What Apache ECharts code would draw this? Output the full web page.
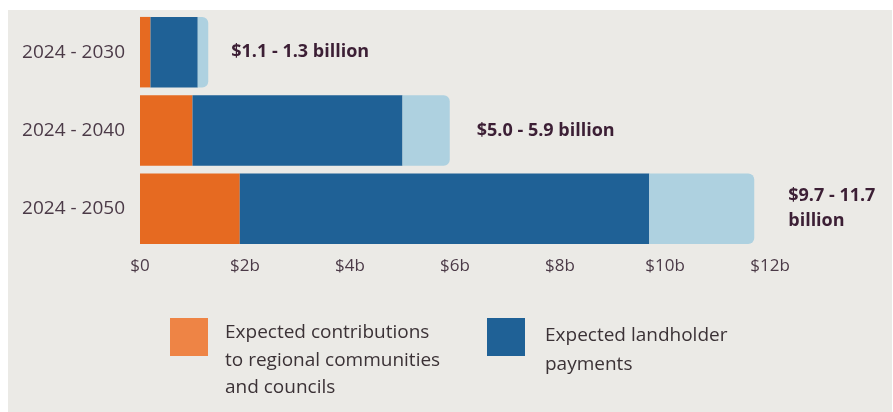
<!DOCTYPE html>
<html>
<head>
<meta charset="utf-8">
<script src="https://cdn.jsdelivr.net/npm/echarts@6/dist/echarts.min.js"></script>
<style>
  html, body { margin: 0; padding: 0; background: #ffffff; }
  #chart { position: absolute; left: 8px; top: 10px; width: 884px; height: 402px; background: #ebeae6; }
</style>
</head>
<body>
<div id="chart"></div>
<script>
// Periods shown on the vertical axis
const periods = ['2024 - 2030', '2024 - 2040', '2024 - 2050'];
// Expected contributions to regional communities and councils ($ billion)
const communityContrib = [0.2, 1.0, 1.9];
// Lower and upper bound of the total estimate ($ billion)
const lowEstimate = [1.1, 5.0, 9.7];
const highEstimate = [1.3, 5.9, 11.7];
// Axis tick labels
const tickLabels = ['$0', '$2b', '$4b', '$6b', '$8b', '$10b', '$12b'];
// Range annotation text per period
const rangeLabels = ['$1.1 - 1.3 billion', '$5.0 - 5.9 billion', '$9.7 - 11.7\nbillion'];
const rangeLabelGap = [23, 27, 34];

const landholder = lowEstimate.map((v, i) => +(v - communityContrib[i]).toFixed(2));
const rangeSpan = highEstimate.map((v, i) => +(v - lowEstimate[i]).toFixed(2));

const FONT = '"Open Sans", "Noto Sans", sans-serif';
const chart = echarts.init(document.getElementById('chart'));

chart.setOption({
  backgroundColor: '#ebeae6',
  animation: false,
  grid: { left: 132, right: 122, top: 3, bottom: 164 },
  xAxis: {
    type: 'value',
    min: 0, max: 12, interval: 2,
    axisLine: { show: false },
    axisTick: { show: false },
    splitLine: { show: false },
    axisLabel: {
      margin: 10,
      fontFamily: FONT, fontSize: 17, color: '#4b3a47',
      formatter: v => tickLabels[v / 2]
    }
  },
  yAxis: {
    type: 'category',
    inverse: true,
    data: periods,
    axisLine: { show: false },
    axisTick: { show: false },
    axisLabel: { margin: 15, fontFamily: FONT, fontSize: 19, color: '#4b3a47' }
  },
  series: [
    {
      name: 'Expected contributions to regional communities and councils',
      type: 'bar', stack: 'total', barCategoryGap: '10%',
      itemStyle: { color: '#e66a21' },
      data: communityContrib
    },
    {
      name: 'Expected landholder payments',
      type: 'bar', stack: 'total',
      itemStyle: { color: '#1f6196' },
      data: landholder
    },
    {
      name: 'Range',
      type: 'bar', stack: 'total',
      itemStyle: { color: '#aed1e0', borderRadius: [0, 6, 6, 0] },
      data: rangeSpan.map((v, i) => ({
        value: v,
        label: {
          show: true, position: 'right', distance: rangeLabelGap[i],
          formatter: rangeLabels[i],
          fontFamily: FONT, fontWeight: 'bold', fontSize: 18, lineHeight: 25,
          color: '#3c1f35', align: 'left'
        }
      }))
    }
  ],
  graphic: [
    { type: 'rect', left: 162, top: 308, shape: { width: 38, height: 38 }, style: { fill: '#ee8445' } },
    { type: 'text', left: 217, top: 309, style: {
        text: 'Expected contributions\nto regional communities\nand councils',
        font: '19px ' + FONT, lineHeight: 27.5, fill: '#3b3236' } },
    { type: 'rect', left: 479, top: 308, shape: { width: 38, height: 38 }, style: { fill: '#1f6196' } },
    { type: 'text', left: 537, top: 311, style: {
        text: 'Expected landholder\npayments',
        font: '19px ' + FONT, lineHeight: 29, fill: '#3b3236' } }
  ]
});
</script>
</body>
</html>
